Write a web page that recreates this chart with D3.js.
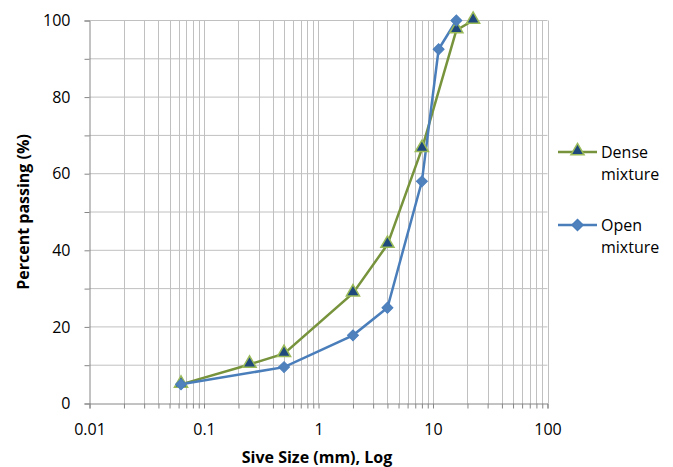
<!DOCTYPE html>
<html>
<head>
<meta charset="utf-8">
<script src="https://cdnjs.cloudflare.com/ajax/libs/d3/7.8.5/d3.min.js"></script>
<style>
  body { margin: 0; background: #fff; }
  text { font-family: "Open Sans", "Liberation Sans", sans-serif; fill: #000; }
</style>
</head>
<body>
<svg width="673" height="467"></svg>
<script>
// sieve sizes (mm) and percent passing
const denseSize = [0.063, 0.25, 0.5, 2, 4, 8, 16, 22.4];
const densePass = [5, 10.2, 13, 28.8, 41.5, 66.5, 97.5, 100];
const openSize = [0.063, 0.5, 2, 4, 8, 11.2, 16];
const openPass = [5, 9.5, 17.8, 25, 58, 92.5, 100];
const xTicks = [0.01, 0.1, 1, 10, 100];
const yTicks = [0, 20, 40, 60, 80, 100];

const svg = d3.select("svg");
const x = d3.scaleLog().domain([0.01, 100]).range([89.5, 547.5]);
const y = d3.scaleLinear().domain([0, 100]).range([403.5, 20.5]);

// minor positions for log grid
let minor = [];
for (let p = -2; p < 2; p++)
  for (let m = 1; m < 10; m++) minor.push(m * Math.pow(10, p));
minor.push(100);

const grid = svg.append("g");
grid.selectAll("line.v").data(minor.filter(d => d > 0.01)).join("line")
  .attr("x1", d => Math.round(x(d)) + 0.5).attr("x2", d => Math.round(x(d)) + 0.5)
  .attr("y1", y(100)).attr("y2", y(0))
  .attr("stroke", "#c0c0c0").attr("stroke-width", 1);
grid.selectAll("line.h").data(d3.range(10, 101, 10)).join("line")
  .attr("x1", x(0.01)).attr("x2", x(100))
  .attr("y1", d => y(d)).attr("y2", d => y(d))
  .attr("stroke", "#c0c0c0").attr("stroke-width", 1);

// y axis
const yAxis = svg.append("g").attr("transform", `translate(${x(0.01)},0)`)
  .call(d3.axisLeft(y).tickValues(d3.range(0, 101, 10)).tickSize(5)
    .tickFormat(d => yTicks.includes(d) ? d : ""));
yAxis.select(".domain").attr("stroke", "#868686");
yAxis.selectAll(".tick line").attr("stroke", "#868686");
yAxis.selectAll(".tick text").attr("font-size", 16).attr("x", -19)
  .style("font-family", "'Open Sans', sans-serif");

// x axis
const xAxis = svg.append("g").attr("transform", `translate(0,${y(0)})`)
  .call(d3.axisBottom(x).tickValues(minor).tickSize(5)
    .tickFormat(d => xTicks.includes(d) ? d : ""));
xAxis.select(".domain").attr("stroke", "#868686");
xAxis.selectAll(".tick line").attr("stroke", "#868686");
xAxis.selectAll(".tick text").attr("font-size", 16).attr("y", 20)
  .style("font-family", "'Open Sans', sans-serif");

// lines
const line = d3.line().x(d => x(d[0])).y(d => y(d[1]));
const dense = d3.zip(denseSize, densePass);
const open = d3.zip(openSize, openPass);

svg.append("path").datum(dense).attr("d", line)
  .attr("fill", "none").attr("stroke", "#77933c").attr("stroke-width", 2.5);
svg.append("path").datum(open).attr("d", line)
  .attr("fill", "none").attr("stroke", "#4a7ebb").attr("stroke-width", 2.5);

const tri = d3.symbol().type(d3.symbolTriangle).size(75);
const dia = d3.symbol().type(d3.symbolSquare).size(60);

svg.append("g").selectAll("path").data(dense).join("path")
  .attr("d", tri)
  .attr("transform", d => `translate(${x(d[0])},${y(d[1]) - 1})`)
  .attr("fill", "#1f497d").attr("stroke", "#9bbb59").attr("stroke-width", 1.5);
svg.append("g").selectAll("path").data(open).join("path")
  .attr("d", dia)
  .attr("transform", d => `translate(${x(d[0])},${y(d[1])}) rotate(45)`)
  .attr("fill", "#4f81bd").attr("stroke", "#4a7ebb").attr("stroke-width", 1);

// axis titles
svg.append("text").attr("x", 317).attr("y", 463).attr("text-anchor", "middle")
  .attr("font-size", 16).attr("font-weight", "bold").text("Sive Size (mm), Log");
svg.append("text").attr("transform", "translate(29,212) rotate(-90)")
  .attr("text-anchor", "middle")
  .attr("font-size", 16).attr("font-weight", "bold").text("Percent passing (%)");

// legend
const legend = [
  { name: ["Dense", "mixture"], color: "#77933c", sym: tri, fill: "#1f497d", stroke: "#9bbb59", y: 152, rot: 0 },
  { name: ["Open", "mixture"], color: "#4a7ebb", sym: dia, fill: "#4f81bd", stroke: "#4a7ebb", y: 225, rot: 45 }
];
const lg = svg.append("g").selectAll("g").data(legend).join("g")
  .attr("transform", d => `translate(558,${d.y})`);
lg.append("line").attr("x1", 0).attr("x2", 39)
  .attr("stroke", d => d.color).attr("stroke-width", 2.5);
lg.append("path").attr("d", d => d.sym())
  .attr("transform", d => `translate(19.5,${d.rot ? 0 : -1}) rotate(${d.rot})`)
  .attr("fill", d => d.fill).attr("stroke", d => d.stroke).attr("stroke-width", 1.5);
lg.append("text").attr("x", 43).attr("y", 5.5).attr("font-size", 16).text(d => d.name[0]);
lg.append("text").attr("x", 43).attr("y", 28).attr("font-size", 16).text(d => d.name[1]);
</script>
</body>
</html>
